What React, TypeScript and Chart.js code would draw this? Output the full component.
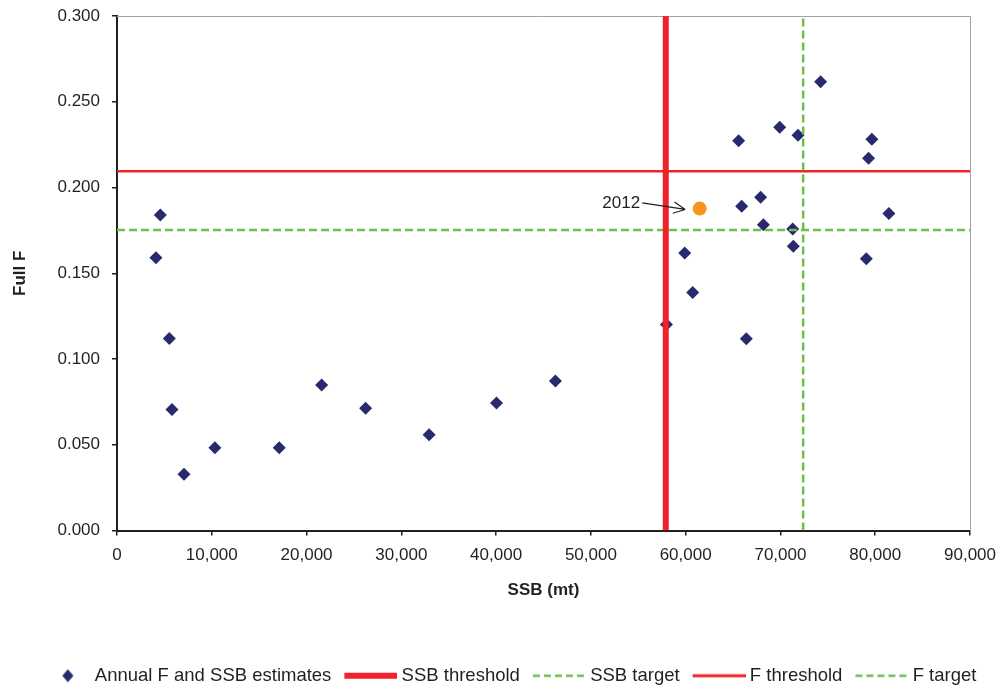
import React, { useEffect, useRef } from 'react';
import { Chart, registerables } from 'chart.js';

Chart.register(...registerables);

// ---- data ----
const SSB_MT = [
  4570, 4110, 5520, 5800, 7070, 10330, 17120, 21590, 26230, 32930, 40040, 46260, 57970,
  74240, 69920, 71850, 65590, 79650, 79300, 67910, 65910, 81440, 68200, 71290, 71360,
  59900, 79060, 60740, 66400,
];
const FULL_F = [
  0.184, 0.159, 0.112, 0.0705, 0.0328, 0.0482, 0.0482, 0.0849, 0.0713, 0.0559, 0.0743, 0.0871, 0.1201,
  0.2616, 0.2351, 0.2305, 0.2272, 0.2281, 0.2170, 0.1943, 0.1890, 0.1849, 0.1783, 0.1758, 0.1657,
  0.1618, 0.1585, 0.1388, 0.1118,
];
const LATEST_LABEL = '2012';
const LATEST_SSB = 61480;
const LATEST_F = 0.1877;

const SSB_THRESHOLD = 57900;
const SSB_TARGET = 72400;
const F_THRESHOLD = 0.2095;
const F_TARGET = 0.1752;

const X_MIN = 0;
const X_MAX = 90000;
const X_STEP = 10000;
const Y_MIN = 0;
const Y_MAX = 0.3;
const Y_STEP = 0.05;

const SERIES_LABELS = [
  'Annual F and SSB estimates',
  'SSB threshold',
  'SSB target',
  'F threshold',
  'F target',
];
const X_TITLE = 'SSB (mt)';
const Y_TITLE = 'Full F';

// annotation anchor (data units)
const NOTE_TEXT_AT = { x: 55200, y: 0.191 };
const NOTE_TIP_AT = { x: 59950, y: 0.1872 };

// ---- styles ----
const FONT = "'Liberation Sans', Arial, sans-serif";
const INK = '#231f20';
const NAVY = '#29296f';
const RED = '#ee2228';
const GREEN = '#6cc04a';
const ORANGE = '#f7941d';

const MARK_W = 60;
const MARK_H = 18;

function makeMarker(draw: (ctx: CanvasRenderingContext2D, w: number, h: number) => void) {
  const c = document.createElement('canvas');
  c.width = MARK_W;
  c.height = MARK_H;
  const ctx = c.getContext('2d') as CanvasRenderingContext2D;
  draw(ctx, MARK_W, MARK_H);
  return c;
}

function lineMarker(color: string, width: number, dash: number[]) {
  return makeMarker((ctx, w, h) => {
    ctx.strokeStyle = color;
    ctx.lineWidth = width;
    ctx.setLineDash(dash);
    ctx.beginPath();
    ctx.moveTo(7, h / 2);
    ctx.lineTo(w, h / 2);
    ctx.stroke();
  });
}

const overlayPlugin = {
  id: 'overlay',
  beforeDatasetsDraw(chart: any) {
    const { ctx, chartArea } = chart;
    ctx.save();
    ctx.strokeStyle = '#a3a3a3';
    ctx.lineWidth = 1;
    ctx.beginPath();
    ctx.moveTo(chartArea.left, chartArea.top + 0.5);
    ctx.lineTo(chartArea.right + 0.5, chartArea.top + 0.5);
    ctx.lineTo(chartArea.right + 0.5, chartArea.bottom);
    ctx.stroke();
    ctx.restore();
  },
  afterDatasetsDraw(chart: any) {
    const { ctx } = chart;
    const xs = chart.scales.x;
    const ys = chart.scales.y;
    const tx = xs.getPixelForValue(NOTE_TEXT_AT.x);
    const ty = ys.getPixelForValue(NOTE_TEXT_AT.y);
    const px = xs.getPixelForValue(NOTE_TIP_AT.x);
    const py = ys.getPixelForValue(NOTE_TIP_AT.y);
    ctx.save();
    ctx.font = `17px ${FONT}`;
    ctx.fillStyle = INK;
    ctx.textAlign = 'right';
    ctx.textBaseline = 'middle';
    ctx.fillText(LATEST_LABEL, tx, ty);
    ctx.strokeStyle = INK;
    ctx.lineWidth = 1.2;
    ctx.beginPath();
    ctx.moveTo(tx + 2, ty);
    ctx.lineTo(px, py);
    const ang = Math.atan2(py - ty, px - tx - 2);
    const len = 13;
    for (const d of [0.45, -0.45]) {
      ctx.moveTo(px, py);
      ctx.lineTo(px - len * Math.cos(ang + d), py - len * Math.sin(ang + d));
    }
    ctx.stroke();
    ctx.restore();
  },
};

export default function App() {
  const canvasRef = useRef<HTMLCanvasElement | null>(null);

  useEffect(() => {
    document.body.style.margin = '0';
    document.body.style.overflow = 'hidden';
    const canvas = canvasRef.current;
    if (!canvas) return;

    const markers = [
      makeMarker((ctx, w, h) => {
        const r = 6.5;
        const cx = 37.25;
        ctx.fillStyle = NAVY;
        ctx.beginPath();
        ctx.moveTo(cx, h / 2 - r);
        ctx.lineTo(cx + r * 0.85, h / 2);
        ctx.lineTo(cx, h / 2 + r);
        ctx.lineTo(cx - r * 0.85, h / 2);
        ctx.closePath();
        ctx.fill();
      }),
      lineMarker(RED, 6, []),
      lineMarker(GREEN, 2.5, [7, 4]),
      lineMarker(RED, 3, []),
      lineMarker(GREEN, 2.5, [7, 4]),
    ];

    const estimates = SSB_MT.map((s, i) => ({ x: s, y: FULL_F[i] }));

    const chart = new Chart(canvas, {
      type: 'scatter',
      data: {
        datasets: [
          {
            label: SERIES_LABELS[0],
            data: estimates,
            pointStyle: 'rectRot',
            pointRadius: 6.5,
            pointHoverRadius: 6.5,
            backgroundColor: NAVY,
            borderColor: NAVY,
            borderWidth: 0,
            order: 10,
          },
          {
            label: SERIES_LABELS[1],
            data: [
              { x: SSB_THRESHOLD, y: Y_MIN },
              { x: SSB_THRESHOLD, y: Y_MAX },
            ],
            showLine: true,
            borderColor: RED,
            borderWidth: 6,
            pointRadius: 0,
            order: 1,
          },
          {
            label: SERIES_LABELS[2],
            data: [
              { x: SSB_TARGET, y: Y_MIN },
              { x: SSB_TARGET, y: Y_MAX },
            ],
            showLine: true,
            borderColor: GREEN,
            borderWidth: 2.5,
            borderDash: [8, 4],
            pointRadius: 0,
            order: 2,
          },
          {
            label: SERIES_LABELS[3],
            data: [
              { x: X_MIN, y: F_THRESHOLD },
              { x: X_MAX, y: F_THRESHOLD },
            ],
            showLine: true,
            borderColor: RED,
            borderWidth: 2.5,
            pointRadius: 0,
            order: 3,
          },
          {
            label: SERIES_LABELS[4],
            data: [
              { x: X_MIN, y: F_TARGET },
              { x: X_MAX, y: F_TARGET },
            ],
            showLine: true,
            borderColor: GREEN,
            borderWidth: 2.5,
            borderDash: [8, 4],
            pointRadius: 0,
            order: 4,
          },
          {
            label: '',
            data: [{ x: LATEST_SSB, y: LATEST_F }],
            pointStyle: 'circle',
            pointRadius: 7,
            pointHoverRadius: 7,
            backgroundColor: ORANGE,
            borderColor: ORANGE,
            borderWidth: 0,
            order: 5,
          },
        ],
      },
      options: {
        animation: false,
        responsive: false,
        devicePixelRatio: 1,
        layout: { padding: { top: 16, left: 10, right: 0, bottom: 0 } },
        scales: {
          x: {
            type: 'linear',
            position: 'bottom',
            min: X_MIN,
            max: X_MAX,
            afterFit: (s: any) => {
              s.height = 125;
              s.paddingLeft = 0;
              s.paddingRight = 0;
            },
            ticks: {
              stepSize: X_STEP,
              padding: 10,
              color: INK,
              font: { family: FONT, size: 17 },
              callback: (v: any) => Number(v).toLocaleString('en-US'),
            },
            grid: { drawOnChartArea: false, drawTicks: true, tickLength: 5, color: INK, lineWidth: 1.5 },
            border: { display: true, color: INK, width: 2 },
            title: {
              display: true,
              text: X_TITLE,
              color: INK,
              font: { family: FONT, size: 17, weight: 'bold' },
              padding: { top: 0, bottom: 55 },
            },
          },
          y: {
            type: 'linear',
            position: 'left',
            min: Y_MIN,
            max: Y_MAX,
            afterFit: (s: any) => {
              s.width = 107;
              s.paddingTop = 0;
              s.paddingBottom = 0;
            },
            ticks: {
              stepSize: Y_STEP,
              padding: 12,
              color: INK,
              font: { family: FONT, size: 17 },
              callback: (v: any) => Number(v).toFixed(3),
            },
            grid: { drawOnChartArea: false, drawTicks: true, tickLength: 5, color: INK, lineWidth: 1.5 },
            border: { display: true, color: INK, width: 2 },
            title: {
              display: true,
              text: Y_TITLE,
              color: INK,
              font: { family: FONT, size: 17, weight: 'bold' },
              padding: { top: 0, bottom: 0 },
            },
          },
          yRight: {
            type: 'linear',
            position: 'right',
            display: true,
            afterFit: (s: any) => {
              s.width = 32;
              s.paddingTop = 0;
              s.paddingBottom = 0;
            },
            ticks: { display: false },
            grid: { display: false, drawTicks: false },
            border: { display: false },
          },
        },
        plugins: {
          tooltip: { enabled: false },
          legend: {
            display: true,
            position: 'bottom',
            labels: {
              usePointStyle: true,
              pointStyleWidth: 50,
              padding: 11,
              color: INK,
              font: { family: FONT, size: 18.5 },
              generateLabels: (ch: any) =>
                ch.data.datasets
                  .map((ds: any, i: number) => ({
                    text: ds.label,
                    pointStyle: markers[i],
                    datasetIndex: i,
                    hidden: false,
                    fillStyle: 'rgba(0,0,0,0)',
                    strokeStyle: 'rgba(0,0,0,0)',
                    lineWidth: 0,
                    fontColor: INK,
                  }))
                  .filter((it: any) => it.text),
            },
          },
        },
      },
      plugins: [overlayPlugin],
    } as any);

    return () => chart.destroy();
  }, []);

  return (
    <div style={{ width: 1002, height: 686, overflow: 'hidden' }}>
      <canvas ref={canvasRef} width={1002} height={695} style={{ display: 'block' }} />
    </div>
  );
}
